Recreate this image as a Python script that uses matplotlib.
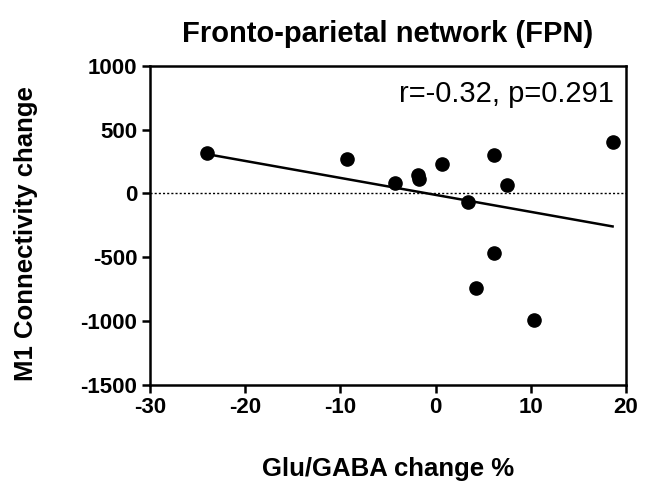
import numpy as np
import matplotlib.pyplot as plt

# data
glu_gaba = [-24.0, -9.3, -4.3, -1.8, -1.7, 0.7, 3.4, 6.1, 6.1, 7.5, 4.2, 10.3, 18.6]
m1_conn = [318, 269, 78, 140, 115, 227, -71, 298, -468, 67, -745, -995, 400]
stat_text = "r=-0.32, p=0.291"

plt.rcParams['font.family'] = ['Liberation Sans', 'DejaVu Sans']
plt.rcParams['axes.unicode_minus'] = False

fig = plt.figure(figsize=(6.52, 4.87), dpi=100)
ax = fig.add_axes([0.230, 0.210, 0.730, 0.655])

x = np.array(glu_gaba)
y = np.array(m1_conn)

# zero reference line
ax.axhline(0, color='black', lw=1.0, ls=(0, (1.5, 1.5)), zorder=1)

# linear fit
k, b = np.polyfit(x, y, 1)
xs = np.array([x.min(), x.max()])
ax.plot(xs, k * xs + b, color='black', lw=1.8, zorder=2)

ax.plot(x, y, 'o', color='black', ms=9.5, zorder=3)

ax.set_xlim(-30, 20)
ax.set_ylim(-1500, 1000)
ax.set_xticks([-30, -20, -10, 0, 10, 20])
ax.set_yticks([-1500, -1000, -500, 0, 500, 1000])

for s in ax.spines.values():
    s.set_linewidth(1.8)
ax.tick_params(direction='out', length=6, width=1.8, labelsize=16, pad=3)
for lab in ax.get_xticklabels() + ax.get_yticklabels():
    lab.set_fontweight('bold')

ax.text(0.975, 0.912, stat_text, transform=ax.transAxes, ha='right', va='center',
        fontsize=21)

ax.set_title("Fronto-parietal network (FPN)", fontsize=21, fontweight='bold', pad=17)
ax.set_xlabel("Glu/GABA change %", fontsize=18.5, fontweight='bold', labelpad=28)
ax.set_ylabel("M1 Connectivity change", fontsize=18.5, fontweight='bold')
ax.yaxis.set_label_coords(-0.235, 0.475)

fig.savefig("out.png", dpi=100)
